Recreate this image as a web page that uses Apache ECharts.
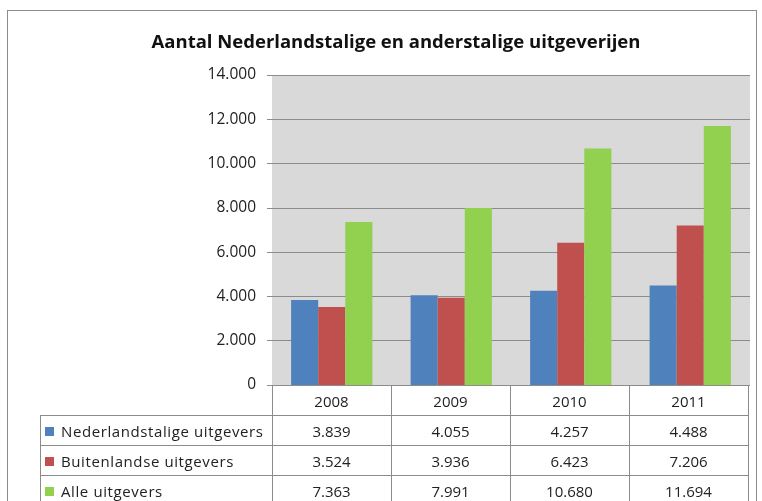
<!DOCTYPE html>
<html><head><meta charset="utf-8">
<script src="https://cdn.jsdelivr.net/npm/echarts@6/dist/echarts.min.js"></script>
<style>
html,body{margin:0;padding:0;background:#fff;}
#wrap{position:relative;width:762px;height:501px;overflow:hidden;}
#frame{position:absolute;left:7px;top:10px;width:750px;height:500px;border:1px solid #8c8c8c;box-sizing:border-box;}
#chart{position:absolute;left:0;top:0;width:762px;height:501px;}
table{position:absolute;border-collapse:collapse;font-family:"Open Sans","Noto Sans",sans-serif;font-size:15px;color:#222;}
td{border:1px solid #8c8c8c;text-align:center;padding:0;height:29px;}
td.lab{text-align:left;padding-left:4px;letter-spacing:0.6px;white-space:nowrap;}
.key{display:inline-block;width:9px;height:9px;margin-right:7px;vertical-align:1px;}
</style></head>
<body><div id="wrap"><div id="frame"></div><div id="chart"></div><div id="tbl"></div></div>
<script>
const title = "Aantal Nederlandstalige en anderstalige uitgeverijen";
const categories = ["2008","2009","2010","2011"];
const seriesNames = ["Nederlandstalige uitgevers","Buitenlandse uitgevers","Alle uitgevers"];
const nederlandstalige = [3839,4055,4257,4488];
const buitenlandse = [3524,3936,6423,7206];
const alle = [7363,7991,10680,11694];
const colors = ["#4f81bd","#c0504d","#92d050"];
const values = [nederlandstalige,buitenlandse,alle];

function fmt(v){return String(v).replace(/\B(?=(\d{3})+(?!\d))/g,".");}

const chart = echarts.init(document.getElementById('chart'));
chart.setOption({
  animation:false,
  title:{text:title,left:391,top:28,textAlign:'center',textStyle:{fontFamily:'"Open Sans","Noto Sans",sans-serif',fontSize:18.5,fontWeight:'bold',color:'#111'}},
  grid:{left:272,right:12,top:75,bottom:116,show:true,backgroundColor:'#d9d9d9',borderWidth:0},
  xAxis:{type:'category',data:categories,axisLabel:{show:false},axisTick:{show:false},axisLine:{show:false}},
  yAxis:{type:'value',min:0,max:14000,interval:2000,
    axisLabel:{formatter:fmt,fontFamily:'"Open Sans","Noto Sans",sans-serif',fontSize:15.5,color:'#222',margin:16},
    axisLine:{show:false},axisTick:{show:true,length:5,lineStyle:{color:'#8c8c8c'}},
    splitLine:{lineStyle:{color:'#8c8c8c',width:1}}},
  series:seriesNames.map((n,i)=>({name:n,type:'bar',data:values[i],itemStyle:{color:colors[i]},barGap:'0%',barCategoryGap:'32%'}))
});

// data table
let html = '<table style="left:40px;top:385px;">';
html += '<tr><td style="border:none;border-right:1px solid #8c8c8c;width:231px"></td>' + categories.map(c=>'<td style="width:118px">'+c+'</td>').join('') + '</tr>';
seriesNames.forEach((n,i)=>{
  html += '<tr><td class="lab"><span class="key" style="background:'+colors[i]+'"></span>'+n+'</td>' + values[i].map(v=>'<td>'+fmt(v)+'</td>').join('') + '</tr>';
});
html += '</table>';
document.getElementById('tbl').innerHTML = html;
</script></body></html>
